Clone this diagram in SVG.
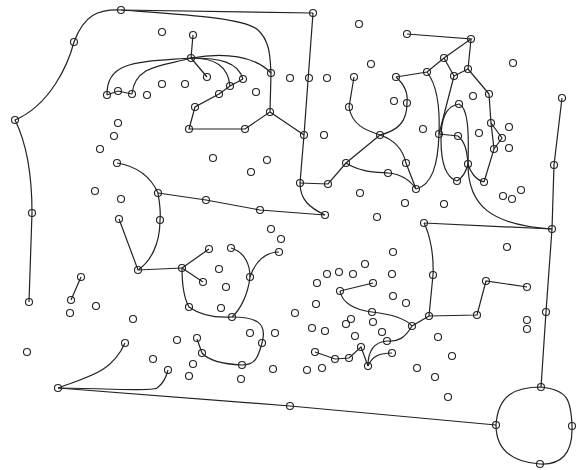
<svg xmlns="http://www.w3.org/2000/svg" width="577" height="470" viewBox="0 0 577 470">
<style>
.e{fill:none;stroke:#222;stroke-width:1.2}
.n{fill:none;stroke:#222;stroke-width:1.1}
</style>
<rect width="577" height="470" fill="#fff"/>
<g id="connectors">
<path class="e" d="M121,10 L313,13"/>
<path class="e" d="M121,10 C190,15 245,18 258,30 S270,60 271,73"/>
<path class="e" d="M121,10 C98,9 84,15 74,42 C68,65 50,105 15,120 C25,140 32,170 32,213 L29,302"/>
<path class="e" d="M191,58 L193,35"/>
<path class="e" d="M191,58 C140,62 106,60 107,95"/>
<path class="e" d="M191,58 C165,66 135,64 132,94"/>
<path class="e" d="M107,95 L118,91 L132,94"/>
<path class="e" d="M191,58 L207,77"/>
<path class="e" d="M191,58 C215,58 228,66 230,86"/>
<path class="e" d="M191,58 C220,58 238,62 243,79"/>
<path class="e" d="M191,58 C225,52 255,56 271,73"/>
<path class="e" d="M271,73 L270,112 L245,129 L189,129 L195,107 L219,94 L230,86 L243,79"/>
<path class="e" d="M270,112 L304,135"/>
<path class="e" d="M313,13 L304,135 L300,183"/>
<path class="e" d="M300,183 C300,200 310,208 325,215"/>
<path class="e" d="M300,183 L328,184 L346,163 L380,135"/>
<path class="e" d="M158,193 L206,200 L260,210 L325,215"/>
<path class="e" d="M117,163 C135,166 150,175 158,193 C160,205 161,212 160,220 C160,245 150,262 138,270"/>
<path class="e" d="M119,219 L138,270 L182,268"/>
<path class="e" d="M182,268 L209,249"/>
<path class="e" d="M182,268 L203,282"/>
<path class="e" d="M182,268 C182,290 185,300 189,307 C200,315 215,318 232,317"/>
<path class="e" d="M231,248 C245,252 250,265 250,277"/>
<path class="e" d="M279,252 C265,252 255,262 250,277"/>
<path class="e" d="M250,277 C248,295 240,310 232,317"/>
<path class="e" d="M232,317 C255,317 268,322 262,343 C258,358 255,365 242,365 C220,364 208,360 202,353 L197,339"/>
<path class="e" d="M81,277 L71,300"/>
<path class="e" d="M58,388 C90,376 112,372 125,343"/>
<path class="e" d="M58,388 C100,388 150,392 157,388 C163,384 166,378 168,370"/>
<path class="e" d="M58,388 L290,406 L496,425"/>
<path class="e" d="M541,387 C515,387 498,395 496,425 C496,450 512,462 540,464 C560,465 573,455 572,426 C571,400 568,390 541,387 Z"/>
<path class="e" d="M541,387 L546,312 L552,229 L554,165 L562,98"/>
<path class="e" d="M424,223 L552,229"/>
<path class="e" d="M468,164 C468,205 490,225 552,229"/>
<path class="e" d="M424,223 C430,235 434,255 433,275 L429,316 L477,315 L486,281 L527,287"/>
<path class="e" d="M429,316 L412,326 C405,338 398,342 387,341"/>
<path class="e" d="M340,291 L373,283"/>
<path class="e" d="M340,291 C342,303 355,310 372,312 C390,314 405,318 412,326"/>
<path class="e" d="M315,352 L335,359 L349,358 L361,347 L368,366"/>
<path class="e" d="M368,366 C368,350 375,342 387,341"/>
<path class="e" d="M368,366 C372,356 380,353 392,353"/>
<path class="e" d="M380,135 C365,130 352,125 349,107 L354,77"/>
<path class="e" d="M396,77 C405,85 408,95 407,103 C407,120 400,130 380,135"/>
<path class="e" d="M396,77 L427,72 L444,58 L471,39 L407,34"/>
<path class="e" d="M471,39 L468,69 L489,94"/>
<path class="e" d="M444,58 L454,76 L468,69"/>
<path class="e" d="M454,76 L439,134"/>
<path class="e" d="M427,72 C437,85 440,110 439,134"/>
<path class="e" d="M439,134 L458,136"/>
<path class="e" d="M439,134 C438,165 432,185 416,189"/>
<path class="e" d="M380,135 C395,140 403,150 406,163 L416,189"/>
<path class="e" d="M346,163 C360,172 375,172 388,173 C400,174 410,180 416,189"/>
<path class="e" d="M459,104 C445,106 441,120 441,140 C441,165 447,178 457,181"/>
<path class="e" d="M459,104 C468,108 469,130 468,164"/>
<path class="e" d="M458,136 C465,142 467,150 468,164"/>
<path class="e" d="M468,164 C466,172 462,178 457,181"/>
<path class="e" d="M468,164 C470,172 476,180 484,182"/>
<path class="e" d="M489,94 L491,123 L494,149 L484,182"/>
<path class="e" d="M491,123 L502,138 L494,149"/>
</g>
<g id="n1"><circle class="n" cx="121" cy="10" r="3.5"/></g>
<g id="n2"><circle class="n" cx="313" cy="13" r="3.5"/></g>
<g id="n3"><circle class="n" cx="74" cy="42" r="3.5"/></g>
<g id="n4"><circle class="n" cx="162" cy="32" r="3.5"/></g>
<g id="n5"><circle class="n" cx="193" cy="35" r="3.5"/></g>
<g id="n6"><circle class="n" cx="191" cy="58" r="3.5"/></g>
<g id="n7"><circle class="n" cx="359" cy="24" r="3.5"/></g>
<g id="n8"><circle class="n" cx="407" cy="34" r="3.5"/></g>
<g id="n9"><circle class="n" cx="471" cy="39" r="3.5"/></g>
<g id="n10"><circle class="n" cx="444" cy="58" r="3.5"/></g>
<g id="n11"><circle class="n" cx="371" cy="64" r="3.5"/></g>
<g id="n12"><circle class="n" cx="513" cy="63" r="3.5"/></g>
<g id="n13"><circle class="n" cx="427" cy="72" r="3.5"/></g>
<g id="n14"><circle class="n" cx="396" cy="77" r="3.5"/></g>
<g id="n15"><circle class="n" cx="454" cy="76" r="3.5"/></g>
<g id="n16"><circle class="n" cx="468" cy="69" r="3.5"/></g>
<g id="n17"><circle class="n" cx="354" cy="77" r="3.5"/></g>
<g id="n18"><circle class="n" cx="207" cy="77" r="3.5"/></g>
<g id="n19"><circle class="n" cx="243" cy="79" r="3.5"/></g>
<g id="n20"><circle class="n" cx="230" cy="86" r="3.5"/></g>
<g id="n21"><circle class="n" cx="219" cy="94" r="3.5"/></g>
<g id="n22"><circle class="n" cx="271" cy="73" r="3.5"/></g>
<g id="n23"><circle class="n" cx="290" cy="78" r="3.5"/></g>
<g id="n24"><circle class="n" cx="309" cy="78" r="3.5"/></g>
<g id="n25"><circle class="n" cx="327" cy="78" r="3.5"/></g>
<g id="n26"><circle class="n" cx="256" cy="92" r="3.5"/></g>
<g id="n27"><circle class="n" cx="107" cy="95" r="3.5"/></g>
<g id="n28"><circle class="n" cx="118" cy="91" r="3.5"/></g>
<g id="n29"><circle class="n" cx="132" cy="94" r="3.5"/></g>
<g id="n30"><circle class="n" cx="147" cy="95" r="3.5"/></g>
<g id="n31"><circle class="n" cx="162" cy="84" r="3.5"/></g>
<g id="n32"><circle class="n" cx="185" cy="84" r="3.5"/></g>
<g id="n33"><circle class="n" cx="195" cy="107" r="3.5"/></g>
<g id="n34"><circle class="n" cx="189" cy="129" r="3.5"/></g>
<g id="n35"><circle class="n" cx="245" cy="129" r="3.5"/></g>
<g id="n36"><circle class="n" cx="270" cy="112" r="3.5"/></g>
<g id="n37"><circle class="n" cx="304" cy="135" r="3.5"/></g>
<g id="n38"><circle class="n" cx="324" cy="135" r="3.5"/></g>
<g id="n39"><circle class="n" cx="349" cy="107" r="3.5"/></g>
<g id="n40"><circle class="n" cx="394" cy="101" r="3.5"/></g>
<g id="n41"><circle class="n" cx="407" cy="103" r="3.5"/></g>
<g id="n42"><circle class="n" cx="459" cy="104" r="3.5"/></g>
<g id="n43"><circle class="n" cx="473" cy="96" r="3.5"/></g>
<g id="n44"><circle class="n" cx="489" cy="94" r="3.5"/></g>
<g id="n45"><circle class="n" cx="562" cy="98" r="3.5"/></g>
<g id="n46"><circle class="n" cx="423" cy="129" r="3.5"/></g>
<g id="n47"><circle class="n" cx="380" cy="135" r="3.5"/></g>
<g id="n48"><circle class="n" cx="439" cy="134" r="3.5"/></g>
<g id="n49"><circle class="n" cx="458" cy="136" r="3.5"/></g>
<g id="n50"><circle class="n" cx="479" cy="133" r="3.5"/></g>
<g id="n51"><circle class="n" cx="491" cy="123" r="3.5"/></g>
<g id="n52"><circle class="n" cx="509" cy="127" r="3.5"/></g>
<g id="n53"><circle class="n" cx="502" cy="138" r="3.5"/></g>
<g id="n54"><circle class="n" cx="494" cy="149" r="3.5"/></g>
<g id="n55"><circle class="n" cx="509" cy="148" r="3.5"/></g>
<g id="n56"><circle class="n" cx="15" cy="120" r="3.5"/></g>
<g id="n57"><circle class="n" cx="118" cy="123" r="3.5"/></g>
<g id="n58"><circle class="n" cx="114" cy="136" r="3.5"/></g>
<g id="n59"><circle class="n" cx="100" cy="149" r="3.5"/></g>
<g id="n60"><circle class="n" cx="213" cy="158" r="3.5"/></g>
<g id="n61"><circle class="n" cx="267" cy="160" r="3.5"/></g>
<g id="n62"><circle class="n" cx="251" cy="172" r="3.5"/></g>
<g id="n63"><circle class="n" cx="117" cy="163" r="3.5"/></g>
<g id="n64"><circle class="n" cx="95" cy="191" r="3.5"/></g>
<g id="n65"><circle class="n" cx="121" cy="199" r="3.5"/></g>
<g id="n66"><circle class="n" cx="158" cy="193" r="3.5"/></g>
<g id="n67"><circle class="n" cx="160" cy="220" r="3.5"/></g>
<g id="n68"><circle class="n" cx="119" cy="219" r="3.5"/></g>
<g id="n69"><circle class="n" cx="32" cy="213" r="3.5"/></g>
<g id="n70"><circle class="n" cx="206" cy="200" r="3.5"/></g>
<g id="n71"><circle class="n" cx="260" cy="210" r="3.5"/></g>
<g id="n72"><circle class="n" cx="325" cy="215" r="3.5"/></g>
<g id="n73"><circle class="n" cx="300" cy="183" r="3.5"/></g>
<g id="n74"><circle class="n" cx="328" cy="184" r="3.5"/></g>
<g id="n75"><circle class="n" cx="346" cy="163" r="3.5"/></g>
<g id="n76"><circle class="n" cx="406" cy="163" r="3.5"/></g>
<g id="n77"><circle class="n" cx="388" cy="173" r="3.5"/></g>
<g id="n78"><circle class="n" cx="416" cy="189" r="3.5"/></g>
<g id="n79"><circle class="n" cx="360" cy="193" r="3.5"/></g>
<g id="n80"><circle class="n" cx="468" cy="164" r="3.5"/></g>
<g id="n81"><circle class="n" cx="457" cy="181" r="3.5"/></g>
<g id="n82"><circle class="n" cx="484" cy="182" r="3.5"/></g>
<g id="n83"><circle class="n" cx="554" cy="165" r="3.5"/></g>
<g id="n84"><circle class="n" cx="405" cy="203" r="3.5"/></g>
<g id="n85"><circle class="n" cx="444" cy="204" r="3.5"/></g>
<g id="n86"><circle class="n" cx="503" cy="196" r="3.5"/></g>
<g id="n87"><circle class="n" cx="512" cy="199" r="3.5"/></g>
<g id="n88"><circle class="n" cx="521" cy="190" r="3.5"/></g>
<g id="n89"><circle class="n" cx="377" cy="217" r="3.5"/></g>
<g id="n90"><circle class="n" cx="424" cy="223" r="3.5"/></g>
<g id="n91"><circle class="n" cx="552" cy="229" r="3.5"/></g>
<g id="n92"><circle class="n" cx="271" cy="229" r="3.5"/></g>
<g id="n93"><circle class="n" cx="281" cy="239" r="3.5"/></g>
<g id="n94"><circle class="n" cx="209" cy="249" r="3.5"/></g>
<g id="n95"><circle class="n" cx="231" cy="248" r="3.5"/></g>
<g id="n96"><circle class="n" cx="279" cy="252" r="3.5"/></g>
<g id="n97"><circle class="n" cx="138" cy="270" r="3.5"/></g>
<g id="n98"><circle class="n" cx="182" cy="268" r="3.5"/></g>
<g id="n99"><circle class="n" cx="219" cy="269" r="3.5"/></g>
<g id="n100"><circle class="n" cx="203" cy="282" r="3.5"/></g>
<g id="n101"><circle class="n" cx="250" cy="277" r="3.5"/></g>
<g id="n102"><circle class="n" cx="226" cy="287" r="3.5"/></g>
<g id="n103"><circle class="n" cx="81" cy="277" r="3.5"/></g>
<g id="n104"><circle class="n" cx="71" cy="300" r="3.5"/></g>
<g id="n105"><circle class="n" cx="96" cy="306" r="3.5"/></g>
<g id="n106"><circle class="n" cx="29" cy="302" r="3.5"/></g>
<g id="n107"><circle class="n" cx="189" cy="307" r="3.5"/></g>
<g id="n108"><circle class="n" cx="221" cy="308" r="3.5"/></g>
<g id="n109"><circle class="n" cx="232" cy="317" r="3.5"/></g>
<g id="n110"><circle class="n" cx="133" cy="319" r="3.5"/></g>
<g id="n111"><circle class="n" cx="507" cy="247" r="3.5"/></g>
<g id="n112"><circle class="n" cx="393" cy="252" r="3.5"/></g>
<g id="n113"><circle class="n" cx="392" cy="274" r="3.5"/></g>
<g id="n114"><circle class="n" cx="433" cy="275" r="3.5"/></g>
<g id="n115"><circle class="n" cx="365" cy="264" r="3.5"/></g>
<g id="n116"><circle class="n" cx="327" cy="274" r="3.5"/></g>
<g id="n117"><circle class="n" cx="339" cy="272" r="3.5"/></g>
<g id="n118"><circle class="n" cx="353" cy="274" r="3.5"/></g>
<g id="n119"><circle class="n" cx="317" cy="283" r="3.5"/></g>
<g id="n120"><circle class="n" cx="373" cy="283" r="3.5"/></g>
<g id="n121"><circle class="n" cx="340" cy="291" r="3.5"/></g>
<g id="n122"><circle class="n" cx="316" cy="304" r="3.5"/></g>
<g id="n123"><circle class="n" cx="393" cy="296" r="3.5"/></g>
<g id="n124"><circle class="n" cx="406" cy="303" r="3.5"/></g>
<g id="n125"><circle class="n" cx="295" cy="313" r="3.5"/></g>
<g id="n126"><circle class="n" cx="372" cy="312" r="3.5"/></g>
<g id="n127"><circle class="n" cx="429" cy="316" r="3.5"/></g>
<g id="n128"><circle class="n" cx="351" cy="319" r="3.5"/></g>
<g id="n129"><circle class="n" cx="346" cy="324" r="3.5"/></g>
<g id="n130"><circle class="n" cx="373" cy="322" r="3.5"/></g>
<g id="n131"><circle class="n" cx="412" cy="326" r="3.5"/></g>
<g id="n132"><circle class="n" cx="312" cy="328" r="3.5"/></g>
<g id="n133"><circle class="n" cx="325" cy="331" r="3.5"/></g>
<g id="n134"><circle class="n" cx="382" cy="332" r="3.5"/></g>
<g id="n135"><circle class="n" cx="355" cy="336" r="3.5"/></g>
<g id="n136"><circle class="n" cx="438" cy="337" r="3.5"/></g>
<g id="n137"><circle class="n" cx="387" cy="341" r="3.5"/></g>
<g id="n138"><circle class="n" cx="361" cy="347" r="3.5"/></g>
<g id="n139"><circle class="n" cx="315" cy="352" r="3.5"/></g>
<g id="n140"><circle class="n" cx="392" cy="353" r="3.5"/></g>
<g id="n141"><circle class="n" cx="335" cy="359" r="3.5"/></g>
<g id="n142"><circle class="n" cx="349" cy="358" r="3.5"/></g>
<g id="n143"><circle class="n" cx="368" cy="366" r="3.5"/></g>
<g id="n144"><circle class="n" cx="307" cy="370" r="3.5"/></g>
<g id="n145"><circle class="n" cx="322" cy="368" r="3.5"/></g>
<g id="n146"><circle class="n" cx="417" cy="368" r="3.5"/></g>
<g id="n147"><circle class="n" cx="435" cy="377" r="3.5"/></g>
<g id="n148"><circle class="n" cx="448" cy="397" r="3.5"/></g>
<g id="n149"><circle class="n" cx="452" cy="356" r="3.5"/></g>
<g id="n150"><circle class="n" cx="486" cy="281" r="3.5"/></g>
<g id="n151"><circle class="n" cx="527" cy="287" r="3.5"/></g>
<g id="n152"><circle class="n" cx="477" cy="315" r="3.5"/></g>
<g id="n153"><circle class="n" cx="527" cy="320" r="3.5"/></g>
<g id="n154"><circle class="n" cx="527" cy="329" r="3.5"/></g>
<g id="n155"><circle class="n" cx="546" cy="312" r="3.5"/></g>
<g id="n156"><circle class="n" cx="541" cy="387" r="3.5"/></g>
<g id="n157"><circle class="n" cx="572" cy="426" r="3.5"/></g>
<g id="n158"><circle class="n" cx="540" cy="464" r="3.5"/></g>
<g id="n159"><circle class="n" cx="496" cy="425" r="3.5"/></g>
<g id="n160"><circle class="n" cx="290" cy="406" r="3.5"/></g>
<g id="n161"><circle class="n" cx="58" cy="388" r="3.5"/></g>
<g id="n162"><circle class="n" cx="125" cy="343" r="3.5"/></g>
<g id="n163"><circle class="n" cx="168" cy="370" r="3.5"/></g>
<g id="n164"><circle class="n" cx="153" cy="359" r="3.5"/></g>
<g id="n165"><circle class="n" cx="177" cy="340" r="3.5"/></g>
<g id="n166"><circle class="n" cx="197" cy="338" r="3.5"/></g>
<g id="n167"><circle class="n" cx="202" cy="353" r="3.5"/></g>
<g id="n168"><circle class="n" cx="242" cy="365" r="3.5"/></g>
<g id="n169"><circle class="n" cx="262" cy="343" r="3.5"/></g>
<g id="n170"><circle class="n" cx="250" cy="333" r="3.5"/></g>
<g id="n171"><circle class="n" cx="275" cy="333" r="3.5"/></g>
<g id="n172"><circle class="n" cx="273" cy="369" r="3.5"/></g>
<g id="n173"><circle class="n" cx="241" cy="379" r="3.5"/></g>
<g id="n174"><circle class="n" cx="193" cy="364" r="3.5"/></g>
<g id="n175"><circle class="n" cx="189" cy="376" r="3.5"/></g>
<g id="n176"><circle class="n" cx="27" cy="352" r="3.5"/></g>
<g id="n177"><circle class="n" cx="70" cy="313" r="3.5"/></g>
</svg>
